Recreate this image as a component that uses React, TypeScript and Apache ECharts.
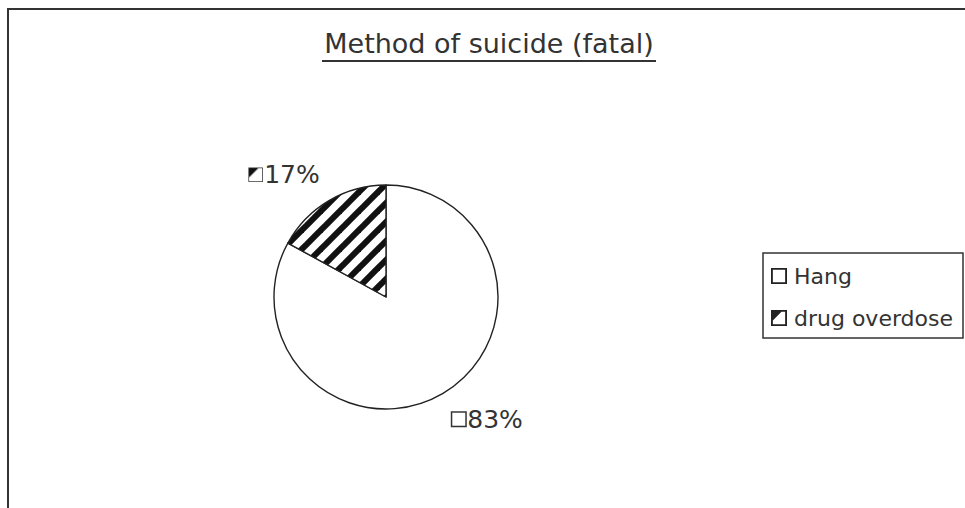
import React, { useEffect, useRef } from "react";
import * as echarts from "echarts";

// Chart content
const titleText = "Method of suicide (fatal)";
const categories = ["Hang", "drug overdose"];
const shares = [83, 17];

const FONT = "DejaVu Sans";
const INK = "#333";
const TILE = 19;

// Diagonal "/" hatch tile for the drug overdose slice
function makeHatch(): HTMLCanvasElement {
  const c = document.createElement("canvas");
  c.width = TILE;
  c.height = TILE;
  const ctx = c.getContext("2d")!;
  ctx.fillStyle = "#fff";
  ctx.fillRect(0, 0, TILE, TILE);
  ctx.fillStyle = "#111";
  // each stripe is a band x + y in [k - w, k + w], drawn as a polygon so the tile repeats seamlessly
  const w = 4.3;
  for (const k of [0, TILE, 2 * TILE]) {
    ctx.beginPath();
    ctx.moveTo(k - w - TILE, TILE);
    ctx.lineTo(k + w - TILE, TILE);
    ctx.lineTo(k + w, 0);
    ctx.lineTo(k - w, 0);
    ctx.closePath();
    ctx.fill();
  }
  return c;
}

// Small key shown beside the 17% label: white square with a dark corner
function makeKey(): HTMLCanvasElement {
  const c = document.createElement("canvas");
  c.width = 13;
  c.height = 13;
  const ctx = c.getContext("2d")!;
  ctx.fillStyle = "#fff";
  ctx.fillRect(0, 0, 13, 13);
  ctx.fillStyle = "#111";
  ctx.beginPath();
  ctx.moveTo(0, 0);
  ctx.lineTo(9, 0);
  ctx.lineTo(0, 9);
  ctx.closePath();
  ctx.fill();
  return c;
}

const ICON_PLAIN = "path://M0,0H13V13H0Z M1.5,1.5V11.5H11.5V1.5Z";
const ICON_HATCH = "path://M0,0H13V13H0Z M1.5,1.5V11.5H11.5V1.5Z M1.5,1.5H8.5L1.5,8.5Z";

export default function App() {
  const ref = useRef<HTMLDivElement>(null);

  useEffect(() => {
    if (!ref.current) return;
    const chart = echarts.init(ref.current, undefined, { renderer: "svg" });
    const hatch = makeHatch();
    const key = makeKey();
    const fills: any[] = [
      "#fff",
      { image: hatch.toDataURL(), repeat: "repeat", imageWidth: TILE, imageHeight: TILE },
    ];
    const icons = [ICON_PLAIN, ICON_HATCH];
    const keyTags = ["plain", "hatch"];

    chart.setOption({
      animation: false,
      backgroundColor: "#fff",
      title: {
        text: titleText,
        left: 489,
        top: 30,
        padding: 0,
        textAlign: "center",
        textStyle: { fontFamily: FONT, fontSize: 27, fontWeight: "normal", color: INK },
      },
      legend: {
        orient: "vertical",
        left: 763,
        top: 253,
        padding: [11, 10, 8, 8],
        borderColor: INK,
        borderWidth: 1.5,
        itemWidth: 16,
        itemHeight: 16,
        itemGap: 18,
        selectedMode: false,
        itemStyle: { color: "#222", borderWidth: 0 },
        textStyle: {
          fontFamily: FONT,
          fontSize: 22,
          color: INK,
          lineHeight: 24,
          padding: [0, 0, 0, 2],
        },
        data: categories.map((name, i) => ({ name, icon: icons[i] })),
      },
      graphic: [
        {
          type: "polyline",
          silent: true,
          shape: { points: [[8, 508], [8, 9], [965, 9]] },
          style: { stroke: INK, lineWidth: 2, fill: "none" },
        },
        {
          type: "line",
          silent: true,
          shape: { x1: 322, y1: 61, x2: 656, y2: 61 },
          style: { stroke: INK, lineWidth: 2 },
        },
      ],
      series: [
        {
          type: "pie",
          center: [386, 297],
          radius: 112,
          startAngle: 90,
          clockwise: true,
          silent: true,
          avoidLabelOverlap: false,
          itemStyle: { borderColor: "#222", borderWidth: 1.4 },
          label: {
            show: true,
            position: "outside",
            distanceToLabelLine: -6,
            formatter: (p: any) => `{${keyTags[p.dataIndex]}|}{t|${p.value}%}`,
            rich: {
              plain: {
                width: 13,
                height: 13,
                borderColor: INK,
                borderWidth: 1.5,
                backgroundColor: "#fff",
              },
              hatch: {
                width: 13,
                height: 13,
                borderColor: INK,
                borderWidth: 1.5,
                backgroundColor: { image: key },
              },
              t: {
                fontFamily: FONT,
                fontSize: 25,
                color: INK,
                padding: [0, 0, 0, 2],
              },
            },
          },
          labelLine: { show: false, length: 30, length2: 0 },
          data: categories.map((name, i) => ({
            name,
            value: shares[i],
            itemStyle: { color: fills[i] },
          })),
        },
      ],
    });

    return () => chart.dispose();
  }, []);

  return (
    <div
      ref={ref}
      style={{ position: "fixed", left: 0, top: 0, width: 965, height: 508, background: "#fff" }}
    />
  );
}
